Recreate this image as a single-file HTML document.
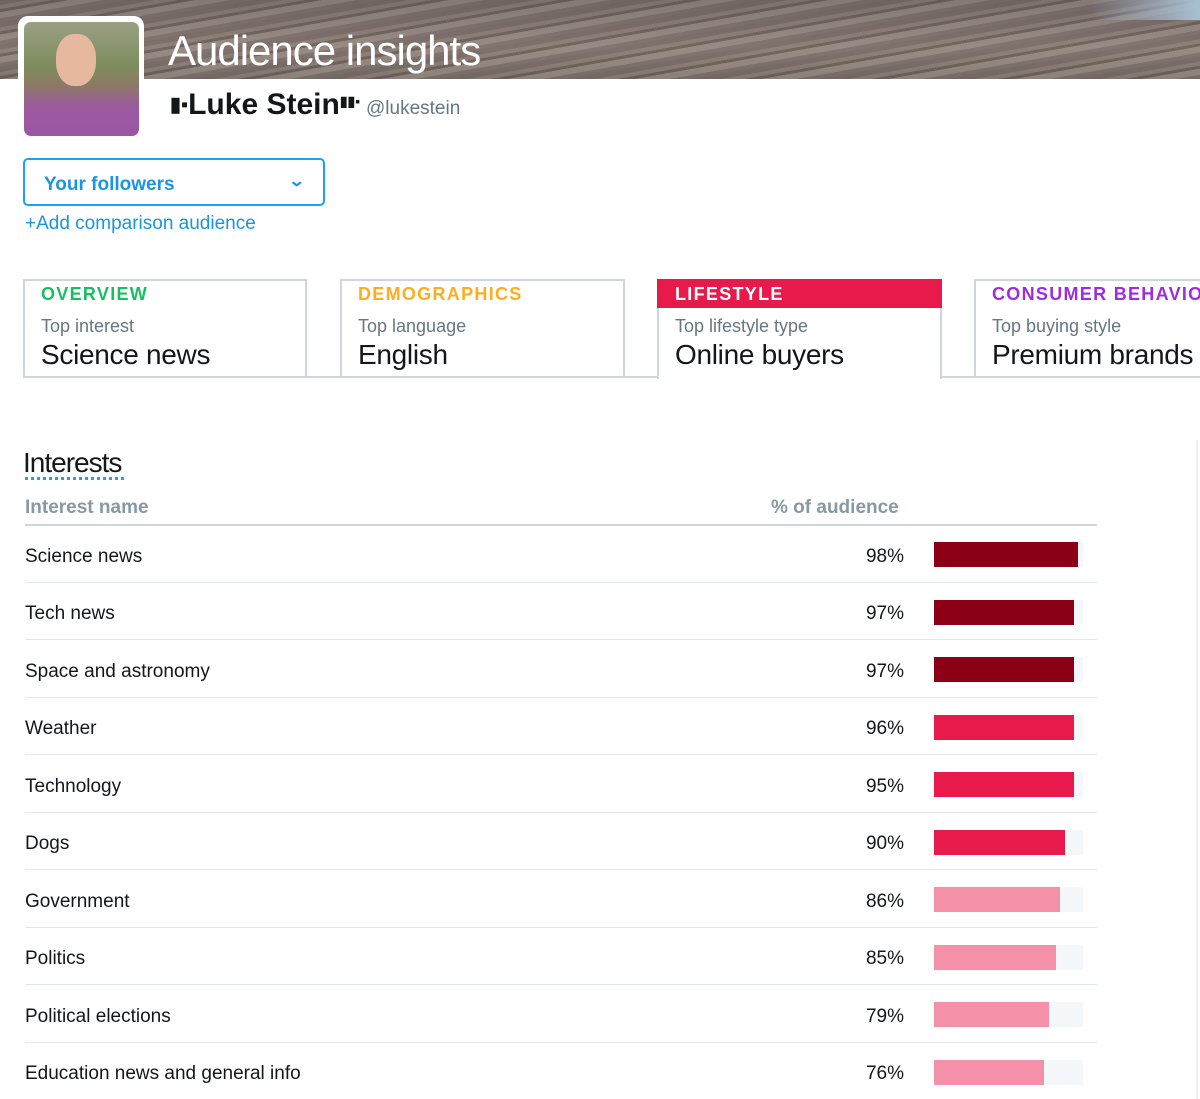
<!DOCTYPE html>
<html><head><meta charset="utf-8"><style>
*{margin:0;padding:0;box-sizing:border-box}
body{width:1200px;height:1099px;overflow:hidden;background:#fff;font-family:"Liberation Sans",Arial,sans-serif;position:relative;color:#14171a}
.abs{position:absolute}
.banner{left:0;top:0;width:1200px;height:79px;background:repeating-linear-gradient(170deg,#6f625f 0 5px,#8a7d78 5px 9px,#5d514f 9px 12px,#9a8e88 12px 18px,#76696a 18px 22px);}
.banner2{left:0;top:0;width:1200px;height:79px;background:linear-gradient(180deg,rgba(110,100,98,.5),rgba(150,135,125,.4) 60%,rgba(120,110,100,.4));}
.sky{left:1090px;top:0;width:110px;height:20px;background:linear-gradient(90deg,rgba(150,170,190,0),#a9c0d4)}
.av{left:18px;top:16px;width:126px;height:121px;background:#fff;border-radius:10px}
.avi{left:24px;top:22px;width:115px;height:114px;border-radius:7px;background:linear-gradient(180deg,#9aa084 0,#7d8c5c 40%,#8d7a66 55%,#9c5aa0 75%,#9b55a2 100%)}
.face{left:56px;top:34px;width:40px;height:52px;border-radius:45%;background:#e6b8a0}
.tab{top:279px;height:99px;border:2px solid #ccd6dd;border-bottom-width:2px}
.tt{font-size:18px;font-weight:bold;letter-spacing:1.3px;position:absolute;left:16px;top:3px}
.ts{font-size:18px;color:#657786;position:absolute;left:16px;top:35px}
.tv{font-size:28px;position:absolute;left:16px;top:58px;color:#14171a;letter-spacing:-.3px}
.row{left:25px;width:1072px;height:1px;background:#e1e8ed}
.nm{left:25px;font-size:19px;margin-top:2px}
.pc{left:800px;width:104px;text-align:right;font-size:19px;margin-top:2px}
.tr{left:934px;width:149px;height:25px;background:#f5f8fa}
.b{left:934px;height:25px}
</style></head><body>
<div class="abs banner"></div><div class="abs banner2"></div><div class="abs sky"></div>
<div class="abs" style="left:168px;top:27px;font-size:42px;color:#fff;letter-spacing:-1px">Audience insights</div>
<div class="abs av"></div><div class="abs avi"></div><div class="abs face"></div>
<div class="abs" style="left:170px;top:88px;font-size:30px;font-weight:bold;white-space:nowrap"><span style="font-size:20px;vertical-align:3px">▮▪</span>Luke Stein<span style="font-size:14px;vertical-align:8px">▮▮▪</span></div>
<div class="abs" style="left:366px;top:98px;font-size:19px;color:#657786">@lukestein</div>
<div class="abs" style="left:23px;top:158px;width:302px;height:48px;border:2px solid #1da1f2;border-radius:5px"></div>
<div class="abs" style="left:44px;top:174px;font-size:19px;font-weight:bold;color:#1b95e0">Your followers</div>
<div class="abs" style="left:290px;top:171px;font-size:16px;font-weight:bold;color:#1b95e0;transform:scaleX(1.3)">⌄</div>
<div class="abs" style="left:25px;top:213px;font-size:19px;color:#1b95e0">+Add comparison audience</div>

<div class="abs tab" style="left:23px;width:284px"><div class="tt" style="color:#17bf63">OVERVIEW</div><div class="ts">Top interest</div><div class="tv">Science news</div></div>
<div class="abs tab" style="left:340px;width:285px"><div class="tt" style="color:#ffad1f">DEMOGRAPHICS</div><div class="ts">Top language</div><div class="tv">English</div></div>
<div class="abs" style="left:307px;top:376px;width:33px;height:2px;background:#ccd6dd"></div>
<div class="abs" style="left:625px;top:376px;width:33px;height:2px;background:#ccd6dd"></div>
<div class="abs tab" style="left:657px;width:285px;border-bottom:none;height:100px"><div style="position:absolute;left:-2px;top:-2px;width:285px;height:29px;background:#e8194b"></div><div class="tt" style="color:#fff">LIFESTYLE</div><div class="ts">Top lifestyle type</div><div class="tv">Online buyers</div></div>
<div class="abs" style="left:942px;top:376px;width:33px;height:2px;background:#ccd6dd"></div>
<div class="abs tab" style="left:974px;width:260px;white-space:nowrap"><div class="tt" style="color:#9d2ce0">CONSUMER BEHAVIOR</div><div class="ts">Top buying style</div><div class="tv">Premium brands</div></div>

<div class="abs" style="left:23px;top:447px;font-size:28px;letter-spacing:-1px">Interests</div>
<div class="abs" style="left:25px;top:477px;width:99px;border-top:3px dotted #1da1f2"></div>
<div class="abs" style="left:25px;top:497px;font-size:19px;color:#8899a6;font-weight:bold">Interest name</div>
<div class="abs" style="left:771px;top:497px;font-size:19px;color:#8899a6;font-weight:bold">% of audience</div>
<div class="abs" style="left:1196px;top:440px;width:2px;height:659px;background:#eef1f3"></div>
<div class="abs row" style="top:524px;height:2px;background:#ccd6dd"></div>

<div class="abs nm" style="top:544px">Science news</div><div class="abs pc" style="top:544px">98%</div><div class="abs tr" style="top:542px"></div><div class="abs b" style="top:542px;width:144px;background:#8b0015"></div><div class="abs row" style="top:582px"></div>
<div class="abs nm" style="top:601px">Tech news</div><div class="abs pc" style="top:601px">97%</div><div class="abs tr" style="top:600px"></div><div class="abs b" style="top:600px;width:140px;background:#8b0015"></div><div class="abs row" style="top:639px"></div>
<div class="abs nm" style="top:659px">Space and astronomy</div><div class="abs pc" style="top:659px">97%</div><div class="abs tr" style="top:657px"></div><div class="abs b" style="top:657px;width:140px;background:#8b0015"></div><div class="abs row" style="top:697px"></div>
<div class="abs nm" style="top:716px">Weather</div><div class="abs pc" style="top:716px">96%</div><div class="abs tr" style="top:715px"></div><div class="abs b" style="top:715px;width:140px;background:#e8194b"></div><div class="abs row" style="top:754px"></div>
<div class="abs nm" style="top:774px">Technology</div><div class="abs pc" style="top:774px">95%</div><div class="abs tr" style="top:772px"></div><div class="abs b" style="top:772px;width:140px;background:#e8194b"></div><div class="abs row" style="top:812px"></div>
<div class="abs nm" style="top:831px">Dogs</div><div class="abs pc" style="top:831px">90%</div><div class="abs tr" style="top:830px"></div><div class="abs b" style="top:830px;width:131px;background:#e8194b"></div><div class="abs row" style="top:869px"></div>
<div class="abs nm" style="top:889px">Government</div><div class="abs pc" style="top:889px">86%</div><div class="abs tr" style="top:887px"></div><div class="abs b" style="top:887px;width:126px;background:#f490a8"></div><div class="abs row" style="top:927px"></div>
<div class="abs nm" style="top:946px">Politics</div><div class="abs pc" style="top:946px">85%</div><div class="abs tr" style="top:945px"></div><div class="abs b" style="top:945px;width:122px;background:#f490a8"></div><div class="abs row" style="top:984px"></div>
<div class="abs nm" style="top:1004px">Political elections</div><div class="abs pc" style="top:1004px">79%</div><div class="abs tr" style="top:1002px"></div><div class="abs b" style="top:1002px;width:115px;background:#f490a8"></div><div class="abs row" style="top:1042px"></div>
<div class="abs nm" style="top:1061px">Education news and general info</div><div class="abs pc" style="top:1061px">76%</div><div class="abs tr" style="top:1060px"></div><div class="abs b" style="top:1060px;width:110px;background:#f490a8"></div>
</body></html>
